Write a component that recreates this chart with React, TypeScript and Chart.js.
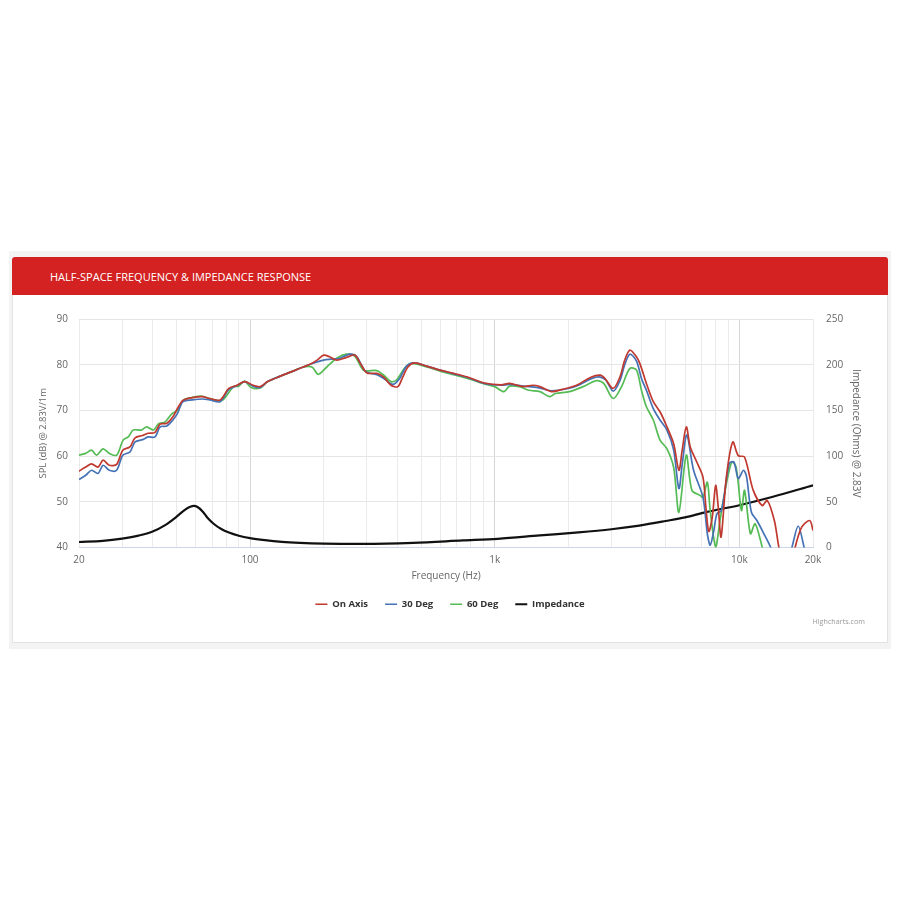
import React, { useEffect, useRef } from "react";
import { Chart, registerables } from "chart.js";

Chart.register(...registerables);

// ---- SPL data (Hz, dB) ----
const onAxisHz = [20, 21.3, 22.5, 23.9, 25.1, 26.6, 28.5, 30.2, 32.3, 33.9, 36.4, 38.3, 40.9, 42.9, 45.7, 48.4, 50.6, 53.2, 58.3, 63.7, 68.6, 75.5, 81.9, 88.4, 95.2, 103, 110, 118, 133, 150, 165, 176, 188, 200, 212, 226, 248, 268, 281, 295, 303, 330, 352, 377, 402, 421, 442, 470, 527, 598, 680, 774, 907, 1062, 1150, 1310, 1430, 1530, 1710, 1890, 2160, 2460, 2700, 2820, 3050, 3250, 3400, 3570, 3800, 3920, 4170, 4450, 4740, 5060, 5390, 5660, 5840, 6070, 6300, 6700, 7100, 7300, 7500, 7750, 8000, 8200, 8420, 8850, 9400, 9900, 10500, 11400, 12400, 13000, 13900, 14500, 15200, 16300, 16900, 18000, 19400, 20000];
const onAxisDb = [56.7, 57.6, 58.3, 57.6, 59.1, 58.0, 58.2, 61.3, 62.0, 64.0, 64.5, 65.0, 65.2, 67.0, 67.2, 68.6, 70.5, 72.2, 72.8, 73.0, 72.6, 72.3, 74.8, 75.5, 76.3, 75.5, 75.2, 76.3, 77.5, 78.6, 79.5, 80.1, 81.0, 82.1, 81.7, 81.0, 81.6, 82.1, 80.5, 78.6, 78.1, 78.1, 77.3, 75.5, 75.2, 77.3, 79.5, 80.4, 79.7, 78.8, 78.1, 77.3, 76.0, 75.6, 75.9, 75.2, 75.5, 75.2, 74.1, 74.6, 75.5, 77.2, 77.7, 77.0, 74.8, 77.3, 81.0, 83.2, 81.7, 80.3, 75.9, 71.9, 69.7, 66.4, 62.7, 56.9, 61.3, 66.4, 62.0, 58.7, 55.4, 48.8, 43.5, 46.6, 53.6, 48.8, 42.3, 55.4, 63.1, 60.1, 59.8, 52.5, 49.2, 50.3, 45.9, 40.1, 35.5, 35.5, 40.0, 44.5, 45.9, 43.7];

const deg30Hz = [20, 21.3, 22.5, 23.9, 25.1, 26.6, 28.5, 30.2, 32.3, 33.9, 36.4, 38.3, 40.9, 42.9, 45.7, 48.4, 50.6, 53.2, 58.3, 63.7, 68.6, 75.5, 81.9, 88.4, 95.2, 103, 110, 118, 133, 150, 165, 176, 188, 200, 215, 233, 255, 272, 285, 298, 330, 352, 383, 409, 436, 470, 527, 598, 680, 774, 907, 1062, 1150, 1310, 1500, 1700, 2000, 2200, 2500, 2700, 2850, 3050, 3250, 3400, 3570, 3800, 3980, 4170, 4450, 4740, 5060, 5390, 5660, 5850, 6100, 6500, 7100, 7400, 7600, 7850, 8100, 8450, 9100, 9500, 9900, 10400, 10700, 11200, 11800, 12600, 13400, 14200, 15500, 16400, 17400, 18400, 19000, 20000];
const deg30Db = [54.9, 55.8, 56.9, 56.2, 58.0, 56.9, 56.9, 60.2, 60.9, 63.1, 63.6, 64.2, 64.2, 66.4, 66.6, 67.9, 69.4, 71.9, 72.3, 72.5, 72.3, 71.9, 74.6, 75.4, 76.3, 75.3, 75.0, 76.3, 77.5, 78.6, 79.5, 80.1, 80.6, 81.0, 81.2, 81.4, 82.3, 81.9, 80.0, 78.4, 77.8, 77.0, 75.7, 77.0, 79.7, 80.4, 79.7, 78.8, 78.0, 77.2, 75.9, 75.5, 75.7, 75.3, 75.0, 74.3, 74.8, 75.5, 77.0, 77.3, 76.6, 74.2, 76.5, 80.0, 82.3, 80.8, 77.0, 74.4, 70.4, 67.9, 65.7, 61.3, 52.9, 58.5, 64.6, 56.9, 51.0, 43.0, 40.5, 43.5, 47.4, 48.1, 58.4, 58.7, 55.1, 56.9, 55.5, 47.7, 45.9, 43.0, 40.1, 36.0, 35.5, 40.0, 44.7, 40.0, 37.0, 36.0];

const deg60Hz = [20, 21.3, 22.5, 23.6, 25.1, 26.6, 28.5, 30.3, 31.8, 33.3, 36.0, 37.8, 40.3, 42.3, 45, 48, 50.4, 53.3, 57.9, 63.7, 69.9, 76.9, 85.6, 89.8, 95, 101, 110, 118, 133, 150, 165, 179, 190, 206, 226, 248, 268, 291, 330, 352, 377, 396, 428, 456, 527, 598, 680, 774, 907, 1000, 1090, 1150, 1260, 1380, 1530, 1680, 1770, 2020, 2300, 2610, 2790, 3050, 3300, 3570, 3800, 3980, 4170, 4450, 4740, 5060, 5390, 5660, 6070, 6400, 6900, 7100, 7400, 7600, 8000, 8300, 8600, 9300, 9700, 10200, 10500, 11100, 11600, 12400, 13000];
const deg60Db = [60.2, 60.6, 61.3, 60.2, 61.6, 60.6, 60.2, 63.5, 64.2, 65.7, 65.7, 66.4, 65.7, 67.1, 67.5, 69.3, 70.0, 72.2, 72.8, 73.1, 72.4, 72.2, 75.2, 75.3, 76.4, 75.0, 74.9, 76.3, 77.5, 78.6, 79.5, 79.5, 77.9, 79.5, 81.4, 82.3, 81.9, 78.8, 78.7, 77.7, 76.3, 76.6, 79.2, 80.3, 79.5, 78.6, 77.8, 77.0, 75.8, 75.2, 74.1, 75.3, 75.2, 74.4, 74.1, 73.0, 73.7, 74.1, 75.2, 76.5, 75.9, 72.6, 75.2, 79.2, 78.8, 74.4, 70.8, 67.9, 63.5, 61.6, 57.5, 47.7, 60.2, 52.5, 51.4, 51.0, 54.3, 48.1, 40.1, 45.2, 50.3, 58.7, 57.6, 48.1, 52.5, 43.0, 45.2, 40.1, 36.0];

// ---- Impedance data (Hz, Ohms) ----
const impedanceHz = [20, 25, 30, 35, 40, 45, 50, 54, 57, 59, 61, 64, 67, 71, 76, 82, 90, 100, 115, 135, 160, 200, 290, 464, 741, 1030, 1530, 2200, 3000, 3900, 5000, 6000, 7300, 9900, 13600, 20000];
const impedanceOhm = [6.0, 7.2, 9.7, 13, 17.5, 24.5, 33.5, 41, 44.6, 45.5, 44.3, 39.5, 32.5, 26, 20.5, 16.3, 12.8, 10.2, 8, 6.2, 5.1, 4.3, 4.0, 5.1, 7.7, 9.5, 13.2, 16.5, 20, 24, 29, 33, 38.7, 46, 55.2, 68];

// ---- Axis ticks ----
const freqTicks = [20, 30, 40, 50, 60, 70, 80, 90, 100, 200, 300, 400, 500, 600, 700, 800, 900, 1000, 2000, 3000, 4000, 5000, 6000, 7000, 8000, 9000, 10000, 20000];
const freqTickLabels: Record<number, string> = { 20: "20", 100: "100", 1000: "1k", 10000: "10k", 20000: "20k" };
const majorFreqs = [100, 1000, 10000];

const FONT = "'Open Sans', 'Noto Sans', sans-serif";

const toPoints = (xs: number[], ys: number[]) => xs.map((x, i) => ({ x, y: ys[i] }));

function FrequencyChart() {
  const canvasRef = useRef<HTMLCanvasElement | null>(null);

  useEffect(() => {
    const canvas = canvasRef.current;
    if (!canvas) return;
    const chart = new Chart(canvas, {
      type: "line",
      data: {
        datasets: [
          { label: "On Axis", data: toPoints(onAxisHz, onAxisDb), borderColor: "#c0392f", backgroundColor: "#c0392f", borderWidth: 1.7, yAxisID: "y" },
          { label: "30 Deg", data: toPoints(deg30Hz, deg30Db), borderColor: "#4572b5", backgroundColor: "#4572b5", borderWidth: 1.7, yAxisID: "y" },
          { label: "60 Deg", data: toPoints(deg60Hz, deg60Db), borderColor: "#55bb55", backgroundColor: "#55bb55", borderWidth: 1.7, yAxisID: "y" },
          {
            label: "Impedance",
            data: toPoints(impedanceHz, impedanceOhm),
            borderColor: "#111111",
            backgroundColor: "#111111",
            borderWidth: 2.2,
            cubicInterpolationMode: "monotone",
            yAxisID: "y1",
          },
        ],
      },
      options: {
        responsive: false,
        animation: false,
        devicePixelRatio: 1,
        events: [],
        elements: {
          point: { radius: 0 },
          line: { tension: 0.3, fill: false },
        },
        layout: { padding: { left: 26, right: 26, top: 24, bottom: 21 } },
        scales: {
          x: {
            type: "logarithmic",
            min: 20,
            max: 20000,
            afterBuildTicks: (axis: any) => {
              axis.ticks = freqTicks.map((v) => ({ value: v }));
            },
            afterFit: (axis: any) => {
              axis.height = 35;
            },
            ticks: {
              autoSkip: false,
              maxRotation: 0,
              padding: 7,
              color: "#666666",
              font: { family: FONT, size: 10 },
              callback: (v: any) => freqTickLabels[Number(v)] ?? "",
            },
            grid: {
              drawTicks: false,
              color: (ctx: any) => (ctx.tick && majorFreqs.includes(ctx.tick.value) ? "#d6d6d6" : "#ebebeb"),
            },
            border: { display: true, color: "#ccd6eb" },
            title: {
              display: true,
              text: "Frequency (Hz)",
              color: "#666666",
              font: { family: FONT, size: 10 },
              padding: 0,
            },
          },
          y: {
            position: "left",
            min: 40,
            max: 90,
            afterFit: (axis: any) => {
              axis.width = 41;
            },
            ticks: {
              stepSize: 10,
              padding: 11,
              color: "#666666",
              font: { family: FONT, size: 10 },
            },
            grid: { drawTicks: false, color: "#e6e6e6" },
            border: { display: false },
            title: {
              display: true,
              text: "SPL (dB) @ 2.83V/1m",
              color: "#666666",
              font: { family: FONT, size: 9.4 },
              padding: 0,
            },
          },
          y1: {
            position: "right",
            min: 0,
            max: 250,
            afterFit: (axis: any) => {
              axis.width = 49;
            },
            ticks: {
              stepSize: 50,
              padding: 13,
              color: "#666666",
              font: { family: FONT, size: 10 },
            },
            grid: { drawTicks: false, drawOnChartArea: false },
            border: { display: false },
            title: {
              display: true,
              text: "Impedance (Ohms) @ 2.83V",
              color: "#666666",
              font: { family: FONT, size: 10 },
              padding: 0,
            },
          },
        },
        plugins: {
          tooltip: { enabled: false },
          legend: {
            position: "bottom",
            labels: {
              usePointStyle: true,
              pointStyle: "line",
              pointStyleWidth: 12,
              boxHeight: 9.5,
              padding: 17,
              color: "#333333",
              font: { family: FONT, size: 9.5, weight: "bold" },
            },
          },
        },
      },
    } as any);
    return () => chart.destroy();
  }, []);

  return <canvas ref={canvasRef} width={876} height={345} style={{ position: "absolute", left: 12, top: 295, width: 876, height: 345 }} />;
}

export default function App() {
  return (
    <div style={{ fontFamily: FONT }}>
      <div style={{ position: "absolute", left: 9, top: 251, width: 882, height: 398, background: "#f3f3f3" }} />
      <div
        style={{
          position: "absolute",
          left: 12,
          top: 295,
          width: 874,
          height: 347,
          background: "#ffffff",
          border: "1px solid #e2e2e2",
          borderTop: "none",
        }}
      />
      <div
        style={{
          position: "absolute",
          left: 12,
          top: 257,
          width: 876,
          height: 38,
          background: "#d42121",
          borderRadius: "3px 3px 0 0",
          color: "#ffffff",
          fontSize: 11,
          lineHeight: "39px",
          paddingLeft: 38,
          boxSizing: "border-box",
          whiteSpace: "nowrap",
        }}
      >
        HALF-SPACE FREQUENCY &amp; IMPEDANCE RESPONSE
      </div>
      <FrequencyChart />
      <div
        style={{
          position: "absolute",
          left: 765,
          top: 615,
          width: 100,
          textAlign: "right",
          fontSize: 7.2,
          color: "#999999",
          lineHeight: "12px",
        }}
      >
        Highcharts.com
      </div>
    </div>
  );
}
